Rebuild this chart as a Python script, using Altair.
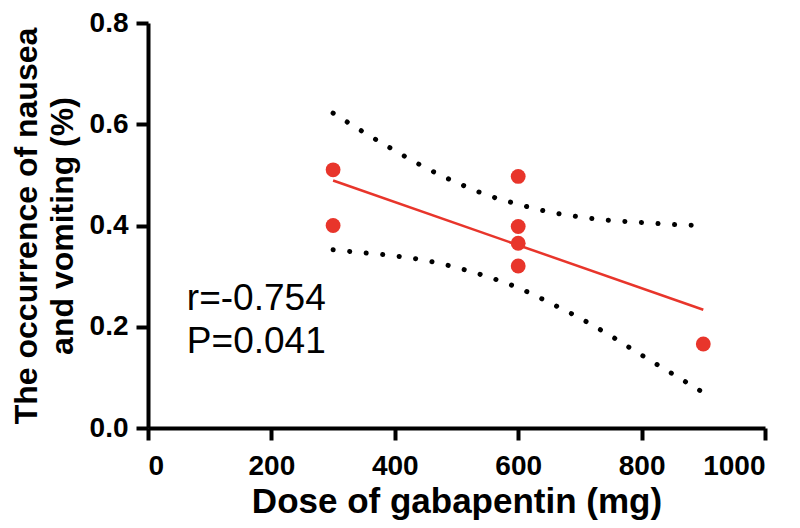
import altair as alt
import pandas as pd

# Observed points
dose = [300, 300, 600, 600, 600, 600, 900]
rate = [0.510, 0.400, 0.497, 0.398, 0.365, 0.320, 0.166]

# 95% confidence band
band_dose = [300, 350, 400, 450, 500, 550, 600, 650, 700, 750, 800, 850, 900]
band_upper = [0.622, 0.584, 0.548, 0.514, 0.485, 0.460, 0.442, 0.427, 0.417, 0.410, 0.406, 0.402, 0.400]
band_lower = [0.352, 0.346, 0.340, 0.331, 0.317, 0.299, 0.277, 0.248, 0.217, 0.182, 0.144, 0.107, 0.070]

# Annotation
note_text = ["r=-0.754", "P=0.041"]
note_x = [63, 63]
note_y = [0.254, 0.170]

x_ticks = [0, 200, 400, 600, 800, 1000]
y_ticks = [0.0, 0.2, 0.4, 0.6, 0.8]

RED = "#e8352b"

pts = pd.DataFrame({"dose": dose, "rate": rate})
band = pd.concat([
    pd.DataFrame({"dose": band_dose, "rate": band_upper, "side": "upper"}),
    pd.DataFrame({"dose": band_dose, "rate": band_lower, "side": "lower"}),
])
notes = pd.DataFrame({"t": note_text, "x": note_x, "y": note_y})

xs = alt.Scale(domain=[0, 1000], nice=False, zero=False)
ys = alt.Scale(domain=[0, 0.8], nice=False, zero=False)

x_axis = alt.Axis(values=x_ticks, format="d", title="Dose of gabapentin (mg)", titleFontSize=35,
                  labelPadding=12, titlePadding=4)
y_axis = alt.Axis(values=y_ticks, format=".1f",
                  title=["The occurrence of nausea", "and vomiting (%)"],
                  titleFontSize=32, titleLineHeight=36, labelPadding=8, titlePadding=10)

points = alt.Chart(pts).mark_circle(size=220, color=RED, opacity=1).encode(
    x=alt.X("dose:Q", scale=xs, axis=x_axis),
    y=alt.Y("rate:Q", scale=ys, axis=y_axis),
)

reg = alt.Chart(pts).transform_regression("dose", "rate").mark_line(
    color=RED, strokeWidth=2.5
).encode(x=alt.X("dose:Q", scale=xs), y=alt.Y("rate:Q", scale=ys))

bands = alt.Chart(band).mark_line(
    color="black", strokeWidth=5, strokeDash=[0.1, 16.5], strokeCap="round",
    interpolate="monotone"
).encode(
    x=alt.X("dose:Q", scale=xs),
    y=alt.Y("rate:Q", scale=ys),
    detail="side:N",
)

text = alt.Chart(notes).mark_text(
    align="left", baseline="middle", fontSize=37, font="Liberation Sans", color="black"
).encode(x=alt.X("x:Q", scale=xs), y=alt.Y("y:Q", scale=ys), text="t:N")

chart = alt.layer(bands, reg, points, text).properties(
    width=617, height=405,
    autosize=alt.AutoSizeParams(type="none"),
    padding={"left": 140, "top": 15, "right": 27, "bottom": 92},
).configure_view(stroke=None).configure_axis(
    grid=False,
    domainColor="black", domainWidth=4,
    tickColor="black", tickWidth=4, tickSize=12,
    labelFont="Liberation Sans", labelFontWeight="bold", labelFontSize=28, labelColor="black",
    titleFont="Liberation Sans", titleFontWeight="bold", titleColor="black",
)

chart.save("out.html", embed_options={"renderer": "svg", "actions": False})
